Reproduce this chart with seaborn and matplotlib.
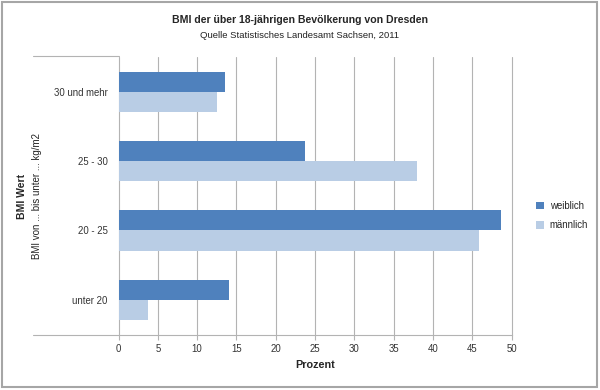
import matplotlib
matplotlib.use("Agg")
import matplotlib.pyplot as plt
import seaborn as sns
import pandas as pd
from matplotlib.lines import Line2D
from matplotlib.patches import Rectangle

categories = ["30 und mehr", "25 - 30", "20 - 25", "unter 20"]
weiblich = [13.6, 23.7, 48.6, 14.1]
maennlich = [12.5, 37.9, 45.9, 3.7]
series_names = ["weiblich", "männlich"]
x_ticks = [0, 5, 10, 15, 20, 25, 30, 35, 40, 45, 50]

df = pd.DataFrame({
    "BMI": categories * 2,
    "Prozent": weiblich + maennlich,
    "Geschlecht": [series_names[0]] * 4 + [series_names[1]] * 4,
})

sns.set_theme(style="white")
plt.rcParams["font.family"] = ["Liberation Sans", "DejaVu Sans"]

fig = plt.figure(figsize=(6, 3.9), dpi=100)
ax = fig.add_axes([0.1975, 0.1423, 0.8528 - 0.1975, 0.8538 - 0.1423])

palette = {"weiblich": "#4F81BD", "männlich": "#B9CDE5"}
sns.barplot(data=df, y="BMI", x="Prozent", hue="Geschlecht", order=categories,
            hue_order=series_names, palette=palette, orient="h", width=0.58,
            linewidth=0, saturation=1, ax=ax, legend=True)

ax.set_xlim(0, 50)
ax.set_xticks(x_ticks)
ax.set_xticklabels([str(t) for t in x_ticks], fontsize=6.9, color="#333333")
ax.tick_params(axis="x", length=3.5, width=0.8, color="#b3b3b3", pad=3, bottom=True)
ax.tick_params(axis="y", length=0, pad=8, labelsize=6.9, labelcolor="#333333")
ax.xaxis.grid(True, color="#b3b3b3", linewidth=0.8)
for gl in ax.get_xgridlines():
    gl.set_clip_on(False)
ax.set_axisbelow(True)
for s in ["top", "right", "left"]:
    ax.spines[s].set_visible(False)
ax.spines["bottom"].set_color("#b3b3b3")
ax.spines["bottom"].set_linewidth(0.8)

ax.set_xlabel("Prozent", fontsize=7.8, fontweight="bold", labelpad=5)
ax.set_ylabel("")

# y axis titles
fig.text(22 / 600, 1 - 196 / 390, "BMI Wert", rotation=90, fontsize=7.5,
         fontweight="bold", ha="center", va="center")
fig.text(37 / 600, 1 - 196 / 390, "BMI von ... bis unter ... kg/m2", rotation=90,
         fontsize=7.0, ha="center", va="center", color="#222222")

# titles
fig.text(0.5, 1 - 20 / 390, "BMI der über 18-jährigen Bevölkerung von Dresden",
         fontsize=7.6, fontweight="bold", ha="center", va="center")
fig.text(0.5, 1 - 35 / 390, "Quelle Statistisches Landesamt Sachsen, 2011",
         fontsize=6.8, ha="center", va="center", color="#222222")

# legend
leg = ax.legend(loc="center left", bbox_to_anchor=(527 / 600, 1 - 215.5 / 390),
                bbox_transform=fig.transFigure, frameon=False, fontsize=6.9,
                handlelength=0.85, handleheight=0.85, handletextpad=0.6,
                labelspacing=1.0)

# category-axis lines
fig.add_artist(Line2D([33 / 600, 118.5 / 600], [1 - 56 / 390, 1 - 56 / 390],
                      color="#b3b3b3", linewidth=0.8, transform=fig.transFigure))
fig.add_artist(Line2D([33 / 600, 118.5 / 600], [1 - 334.5 / 390, 1 - 334.5 / 390],
                      color="#b3b3b3", linewidth=0.8, transform=fig.transFigure))

# outer frame
fig.add_artist(Rectangle((2 / 600, 3 / 390), 595 / 600, 385 / 390, fill=False,
                         edgecolor="#a6a6a6", linewidth=1.5, transform=fig.transFigure))

fig.savefig("out.png", dpi=100)
